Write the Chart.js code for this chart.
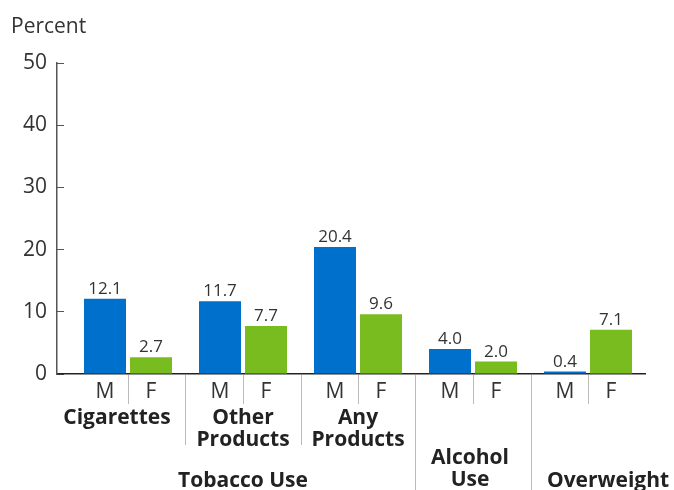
<!DOCTYPE html>
<html>
<head>
<meta charset="utf-8">
<script src="https://cdn.jsdelivr.net/npm/chart.js@4"></script>
<style>
  body { margin: 0; background: #fff; }
  canvas { display: block; }
</style>
</head>
<body>
<canvas id="myChart" width="674" height="490"></canvas>
<script>
const ctx = document.getElementById("myChart").getContext("2d");

// Dados
const categories = ["Cigarettes", "Other Products", "Any Products", "Alcohol Use", "Overweight"];
const groupLines = [["Cigarettes"], ["Other", "Products"], ["Any", "Products"], ["Alcohol", "Use"], ["Overweight"]];
const maleData = [12.1, 11.7, 20.4, 4.0, 0.4];
const femaleData = [2.7, 7.7, 9.6, 2.0, 7.1];
const sexLabels = ["M", "F"];
const yTicks = [0, 10, 20, 30, 40, 50];

const textColor = "#333333";
const fontFamily = "'Open Sans'";

// posicao do texto de cada grupo (deslocamento x, linhas de base)
const groupText = [
  { dx: -11, y: [424] },
  { dx: 0, y: [424, 446] },
  { dx: 0, y: [424, 446] },
  { dx: -3, y: [464, 486] },
  { dx: 20, y: [487] },
];

function line(c, x1, y1, x2, y2) {
  c.beginPath();
  c.moveTo(x1, y1);
  c.lineTo(x2, y2);
  c.stroke();
}

const labelPlugin = {
  id: "labelPlugin",
  afterDatasetsDraw(chart) {
    const c = chart.ctx;
    const x = chart.scales.x;
    const base = chart.chartArea.bottom;
    c.save();

    // valores acima das barras + M/F
    chart.data.datasets.forEach((ds, d) => {
      chart.getDatasetMeta(d).data.forEach((bar, i) => {
        c.fillStyle = textColor;
        c.textAlign = "center";
        c.textBaseline = "alphabetic";
        c.font = "17px " + fontFamily;
        c.fillText(ds.data[i].y.toFixed(1), bar.x, bar.y - 5);
        c.font = "21px " + fontFamily;
        c.fillText(sexLabels[d], bar.x, base + 24);
      });
    });

    // separadores
    c.strokeStyle = "#bbbbbb";
    c.lineWidth = 1;
    categories.forEach((cat, i) => {
      const cx = Math.round(x.getPixelForValue(i)) + 0.5;
      line(c, cx, base + 1, cx, base + 30);
    });
    for (let i = 0; i < categories.length - 1; i++) {
      const sx = Math.round(x.getPixelForValue(i + 0.5)) + 0.5;
      line(c, sx, base + 1, sx, i < 2 ? base + 71 : chart.height);
    }

    // nomes dos grupos
    c.fillStyle = "#222222";
    c.font = "bold 21px " + fontFamily;
    groupLines.forEach((lines, i) => {
      const cx = x.getPixelForValue(i) + groupText[i].dx;
      lines.forEach((t, k) => c.fillText(t, cx, groupText[i].y[k]));
    });
    c.fillText("Tobacco Use", x.getPixelForValue(1), 487);

    // titulo do eixo
    c.fillStyle = textColor;
    c.font = "21px " + fontFamily;
    c.textAlign = "left";
    c.fillText("Percent", 11, 33);
    c.restore();
  },
};

const myChart = new Chart(ctx, {
  type: "bar",
  data: {
    datasets: [
      {
        label: "M",
        data: maleData.map((v, i) => ({ x: i, y: v })),
        backgroundColor: "#0070CD",
      },
      {
        label: "F",
        data: femaleData.map((v, i) => ({ x: i, y: v })),
        backgroundColor: "#78BC1F",
      },
    ],
  },
  options: {
    responsive: false,
    animation: false,
    categoryPercentage: 0.8,
    barPercentage: 42 / 46,
    layout: {
      padding: { left: 0, right: 29, top: 63, bottom: 116 },
    },
    scales: {
      x: {
        type: "linear",
        offset: false,
        min: -71 / 115,
        max: -71 / 115 + 588 / 115,
        afterBuildTicks: (scale) => {
          scale.ticks = categories.map((c, i) => ({ value: i }));
        },
        afterFit: (scale) => {
          scale.height = 0;
        },
        ticks: { display: false },
        grid: { display: false, drawTicks: false, offset: false },
        border: { display: true, color: "#222222", width: 1.5 },
      },
      y: {
        min: 0,
        max: 50,
        afterBuildTicks: (scale) => {
          scale.ticks = yTicks.map((v) => ({ value: v }));
        },
        afterFit: (scale) => {
          scale.width = 57;
        },
        ticks: {
          color: textColor,
          padding: 17,
          font: { family: "Open Sans", size: 21 },
        },
        grid: {
          drawOnChartArea: false,
          drawTicks: true,
          tickLength: -7,
          color: "#555555",
          lineWidth: 1,
        },
        border: { display: true, color: "#555555", width: 1.5 },
      },
    },
    plugins: {
      legend: { display: false },
      tooltip: { enabled: false },
    },
  },
  plugins: [labelPlugin],
});
</script>
</body>
</html>
